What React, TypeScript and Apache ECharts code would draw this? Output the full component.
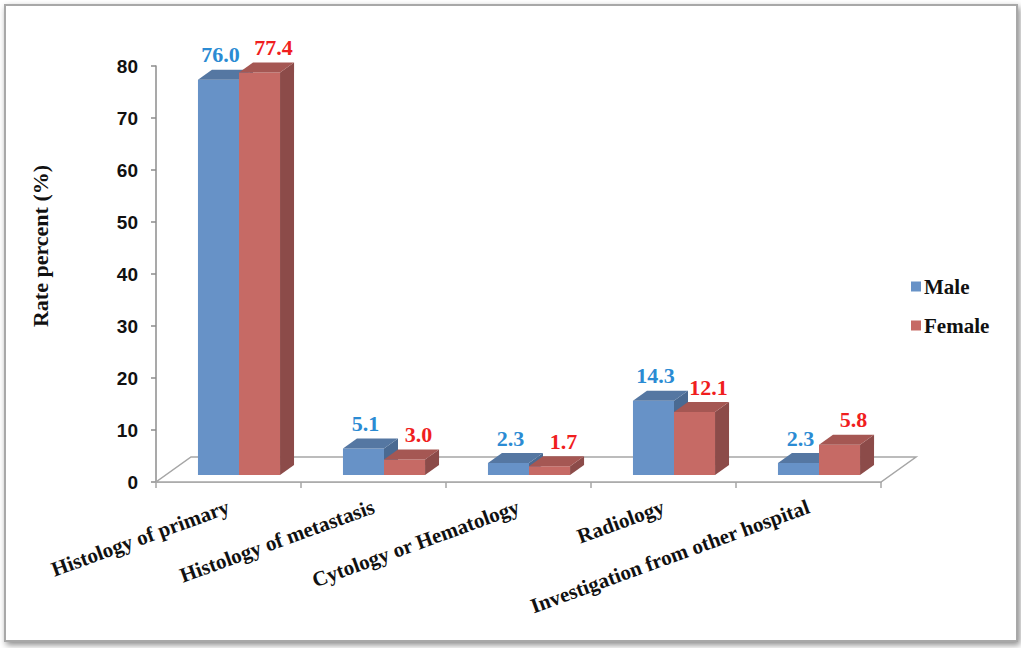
import React, { useEffect, useRef } from "react";
import * as echarts from "echarts";

const categories = [
  "Histology of primary",
  "Histology of metastasis",
  "Cytology or Hematology",
  "Radiology",
  "Investigation from other hospital",
];
const maleValues = [76.0, 5.1, 2.3, 14.3, 2.3];
const femaleValues = [77.4, 3.0, 1.7, 12.1, 5.8];
const yTicks = [0, 10, 20, 30, 40, 50, 60, 70, 80];

const SERIF = "'Times New Roman', 'Liberation Serif', serif";
const SANS = "Arial, 'Liberation Sans', sans-serif";

const MALE = { front: "#6792c7", top: "#5577a2", side: "#4a6a92", label: "#2b8bd3" };
const FEMALE = { front: "#c66a65", top: "#a55753", side: "#8c4b49", label: "#f01e1e" };

const OX = 10.5;
const OY = -7;
const DX = 14;
const DY = -10;

function makeBarRender(isMale: boolean) {
  const col = isMale ? MALE : FEMALE;
  return (params: any, api: any) => {
    const ci = api.value(0);
    const v = api.value(1);
    const base = api.coord([ci, 0]);
    const top = api.coord([ci, v]);
    const band = api.size([1, 0])[0];
    const barW = band * 0.283;
    const x0 = isMale ? base[0] + OX - barW : base[0] + OX;
    const x1 = x0 + barW;
    const yb = base[1] + OY;
    const yt = top[1] + OY;
    const lblOff = isMale ? 2 : 14;
    return {
      type: "group",
      children: [
        {
          type: "polygon",
          shape: { points: [[x0, yb], [x1, yb], [x1, yt], [x0, yt]] },
          style: { fill: col.front },
        },
        {
          type: "polygon",
          shape: { points: [[x1, yb], [x1 + DX, yb + DY], [x1 + DX, yt + DY], [x1, yt]] },
          style: { fill: col.side },
        },
        {
          type: "polygon",
          shape: { points: [[x0, yt], [x1, yt], [x1 + DX, yt + DY], [x0 + DX, yt + DY]] },
          style: { fill: col.top },
        },
        {
          type: "text",
          x: (x0 + x1) / 2 + lblOff,
          y: yt - 25,
          style: {
            text: v.toFixed(1),
            fill: col.label,
            font: `bold 22px ${SERIF}`,
            textAlign: "center",
            textVerticalAlign: "middle",
          },
        },
      ],
    };
  };
}

const floorRender = (params: any, api: any) => {
  const c = api.coord([0, 0]);
  const band = api.size([1, 0])[0];
  const xl = c[0] - band / 2;
  const xr = xl + band * categories.length;
  const y = c[1];
  const fdx = 35;
  const fdy = -25;
  return {
    type: "polygon",
    shape: { points: [[xl, y], [xr, y], [xr + fdx, y + fdy], [xl + fdx, y + fdy]] },
    style: { fill: "#ffffff", stroke: "#a6a6a6", lineWidth: 1.5 },
  };
};

export default function App() {
  const ref = useRef<HTMLDivElement>(null);
  useEffect(() => {
    if (!ref.current) return;
    const chart = echarts.init(ref.current, undefined, { renderer: "svg" });
    chart.setOption({
      animation: false,
      backgroundColor: "#ffffff",
      graphic: [
        {
          type: "rect",
          z: -10,
          shape: { x: 5, y: 5, width: 1012, height: 636 },
          style: {
            fill: "#ffffff",
            stroke: "#a8a8a8",
            lineWidth: 2,
            shadowBlur: 6,
            shadowColor: "rgba(0,0,0,0.45)",
            shadowOffsetX: 2,
            shadowOffsetY: 3,
          },
        },
        {
          type: "text",
          x: 40,
          y: 246,
          rotation: Math.PI / 2,
          style: {
            text: "Rate percent (%)",
            font: `bold 22px ${SERIF}`,
            fill: "#111111",
            textAlign: "center",
            textVerticalAlign: "middle",
          },
        },
      ],
      grid: { left: 156, right: 140, top: 66, bottom: 166, containLabel: false },
      legend: {
        data: ["Male", "Female"],
        orient: "vertical",
        left: 906,
        top: 271,
        icon: "rect",
        itemWidth: 10,
        itemHeight: 10,
        itemGap: 18,
        textStyle: { fontWeight: "bold", fontSize: 21, fontFamily: SERIF, color: "#111111", padding: [0, 0, 0, -2] },
      },
      xAxis: {
        type: "category",
        data: categories,
        boundaryGap: true,
        axisLine: { show: true, lineStyle: { color: "#a6a6a6", width: 1.5 } },
        axisTick: { show: true, length: 6, lineStyle: { color: "#a6a6a6", width: 1.5 } },
        axisLabel: {
          interval: 0,
          rotate: 20,
          margin: 24,
          fontFamily: SERIF,
          fontWeight: "bold",
          fontSize: 21,
          color: "#111111",
        },
        splitLine: { show: false },
      },
      yAxis: {
        type: "value",
        min: yTicks[0],
        max: yTicks[yTicks.length - 1],
        interval: 10,
        axisLine: { show: true, lineStyle: { color: "#8c8c8c", width: 1.5 } },
        axisTick: { show: true, length: 5, lineStyle: { color: "#8c8c8c", width: 1.5 } },
        axisLabel: {
          margin: 18,
          fontFamily: SANS,
          fontWeight: "bold",
          fontSize: 19,
          color: "#111111",
        },
        splitLine: { show: false },
      },
      series: [
        {
          type: "custom",
          name: "floor",
          renderItem: floorRender,
          data: [[0, 0]],
          silent: true,
          z: 1,
        },
        {
          type: "custom",
          name: "Male",
          itemStyle: { color: MALE.front },
          renderItem: makeBarRender(true),
          data: maleValues.map((v, i) => [i, v]),
          z: 2,
        },
        {
          type: "custom",
          name: "Female",
          itemStyle: { color: FEMALE.front },
          renderItem: makeBarRender(false),
          data: femaleValues.map((v, i) => [i, v]),
          z: 3,
        },
      ],
    });
    return () => chart.dispose();
  }, []);
  return (
    <div
      ref={ref}
      style={{ position: "absolute", left: 0, top: 0, width: 1021, height: 648 }}
    />
  );
}
